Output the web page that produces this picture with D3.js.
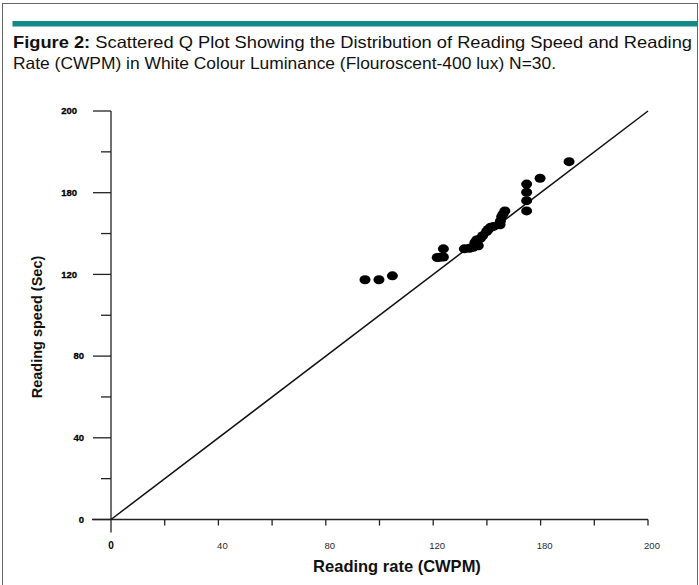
<!DOCTYPE html>
<html>
<head>
<meta charset="utf-8">
<script src="https://cdn.jsdelivr.net/npm/d3@7"></script>
<style>
	body { margin: 0; background: #fff; }
	svg { display: block; font-family: "Liberation Sans", Arial, sans-serif; }
</style>
</head>
<body>
<div id="viz"><svg width="699" height="585"></svg></div>
<script>
// values
const readingRate = [
	94.6, 99.8, 104.8, 121.5, 123.8, 123.8, 131.6, 134.9, 136.8, 136.2,
	138.4, 139.9, 141.4, 144.9, 145.5, 146.7, 154.8, 154.8, 154.8, 154.8,
	159.8, 170.6, 133.5, 135.5, 137.5, 140.5, 142.5, 145.0, 122.5, 146.0
];
const readingSpeed = [
	117.4, 117.4, 119.3, 128.3, 128.5, 132.5, 132.5, 133.3, 134.0, 136.9,
	138.9, 141.0, 143.1, 144.3, 148.3, 151.1, 151.1, 156.1, 160.2, 164.2,
	167.1, 175.2, 132.8, 135.5, 137.5, 142.0, 143.5, 146.0, 128.4, 149.5
];
const refLine = [[0, 0], [200, 200]];
const xTicks = [0, 40, 80, 120, 160, 200];
const xTickLabels = ['0', '40', '80', '120', '180', '200'];
const yTicks = [200, 160, 120, 80, 40, 0];
const yTickLabels = ['200', '180', '120', '80', '40', '0'];
const minorTicks = [20, 60, 100, 140, 180];
const titleBold = 'Figure 2:';
const titleLine1 = ' Scattered Q Plot Showing the Distribution of Reading Speed and Reading';
const titleLine2 = 'Rate (CWPM) in White Colour Luminance (Flouroscent-400 lux) N=30.';
const xTitle = 'Reading rate (CWPM)';
const yTitle = 'Reading speed (Sec)';

const svg = d3.select('#viz svg');

const x = d3.scaleLinear().domain([0, 200]).range([111, 648]);
const y = d3.scaleLinear().domain([0, 200]).range([519.5, 111]);

/* frame + header bar */
svg.append('rect')
	.attr('x', 2.5).attr('y', 3.5)
	.attr('width', 695).attr('height', 600)
	.attr('fill', 'none')
	.attr('stroke', '#666');

svg.append('rect')
	.attr('x', 12.5).attr('y', 21)
	.attr('width', 684.5).attr('height', 5.5)
	.attr('fill', '#128888');

const title = svg.append('g').attr('fill', '#111').style('font-size', '16.5px');
const t1 = title.append('text')
	.attr('x', 13).attr('y', 48)
	.attr('textLength', 679)
	.attr('lengthAdjust', 'spacingAndGlyphs');
t1.append('tspan').style('font-weight', 'bold').text(titleBold);
t1.append('tspan').text(titleLine1);
title.append('text')
	.attr('x', 13).attr('y', 69)
	.attr('textLength', 543)
	.attr('lengthAdjust', 'spacingAndGlyphs')
	.text(titleLine2);

/* axes */
const axes = svg.append('g').attr('stroke', '#222').attr('stroke-width', 1.3);

axes.append('line')
	.attr('x1', x(0)).attr('x2', x(0))
	.attr('y1', y(200)).attr('y2', y(0) + 13);
axes.append('line')
	.attr('x1', x(0) - 19).attr('x2', x(200))
	.attr('y1', y(0)).attr('y2', y(0));

// y ticks, major long, minor short
axes.selectAll('.ymaj')
	.data(yTicks)
	.enter()
	.append('line')
		.attr('x1', x(0) - 18).attr('x2', x(0))
		.attr('y1', d => y(d)).attr('y2', d => y(d));
axes.selectAll('.ymin')
	.data(minorTicks)
	.enter()
	.append('line')
		.attr('x1', x(0) - 10).attr('x2', x(0))
		.attr('y1', d => y(d)).attr('y2', d => y(d));

// x ticks
axes.selectAll('.xt')
	.data(xTicks.slice(1).concat(minorTicks))
	.enter()
	.append('line')
		.attr('x1', d => x(d)).attr('x2', d => x(d))
		.attr('y1', y(0)).attr('y2', y(0) + 6);

svg.append('g')
	.style('font-size', '9.5px')
	.style('font-weight', 'bold')
	.attr('fill', '#000')
	.attr('stroke', '#000')
	.attr('stroke-width', 0.3)
	.attr('text-anchor', 'end')
	.selectAll('text')
	.data(yTicks)
	.enter()
	.append('text')
		.attr('x', d => d >= 100 ? 77 : 84)
		.attr('y', d => y(d))
		.attr('dy', '0.35em')
		.text((d, i) => yTickLabels[i]);

svg.append('g')
	.attr('text-anchor', 'middle')
	.selectAll('text')
	.data(xTicks)
	.enter()
	.append('text')
		.attr('x', d => x(d) + (d === 0 ? 0 : 4))
		.attr('y', 549)
		.attr('fill', d => d === 0 ? '#000' : '#2a2a2a')
		.style('font-weight', d => d === 0 ? 'bold' : 'normal')
		.style('font-size', d => d === 0 ? '10px' : '9.5px')
		.text((d, i) => xTickLabels[i]);

/* 45 degree reference */
svg.append('line')
	.datum(refLine)
	.attr('x1', d => x(d[0][0])).attr('y1', d => y(d[0][1]))
	.attr('x2', d => x(d[1][0])).attr('y2', d => y(d[1][1]))
	.attr('stroke', '#111')
	.attr('stroke-width', 1.5);

/* points */
svg.append('g')
	.selectAll('ellipse')
	.data(readingRate)
	.enter()
	.append('ellipse')
		.attr('cx', d => x(d))
		.attr('cy', (d, i) => y(readingSpeed[i]))
		.attr('rx', 5.5)
		.attr('ry', 4.5)
		.attr('fill', '#000');

/* axis titles */
svg.append('text')
	.attr('x', 397).attr('y', 572)
	.attr('text-anchor', 'middle')
	.style('font-size', '16.5px')
	.style('font-weight', 'bold')
	.attr('fill', '#111')
	.text(xTitle);

svg.append('text')
	.attr('transform', 'translate(42,327) rotate(-90)')
	.attr('text-anchor', 'middle')
	.style('font-size', '14.5px')
	.style('font-weight', 'bold')
	.attr('fill', '#111')
	.text(yTitle);
</script>
</body>
</html>
